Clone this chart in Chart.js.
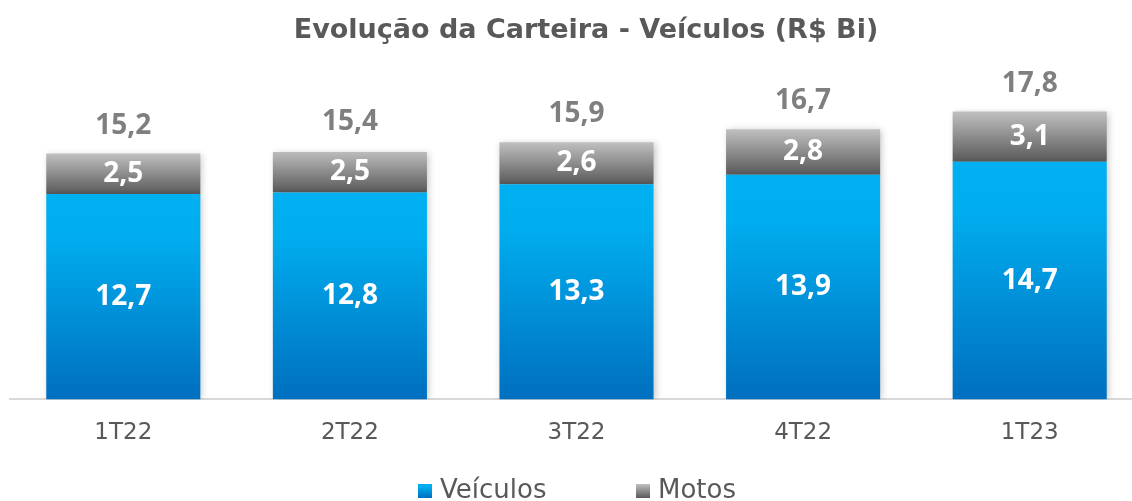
<!DOCTYPE html>
<html>
<head>
<meta charset="utf-8">
<script src="https://cdn.jsdelivr.net/npm/chart.js@4"></script>
<style>
  html, body { margin: 0; padding: 0; background: #fff; overflow: hidden; }
  #wrap { width: 1160px; height: 501px; }
</style>
</head>
<body>
<div id="wrap"><canvas id="carteira"></canvas></div>
<script>
const trimestres = ['1T22', '2T22', '3T22', '4T22', '1T23'];
const veiculos = [12.7, 12.8, 13.3, 13.9, 14.7];
const motos = [2.5, 2.5, 2.6, 2.8, 3.1];
const totais = [15.2, 15.4, 15.9, 16.7, 17.8];

const titulo = 'Evolução da Carteira - Veículos (R$ Bi)';
const fonte = '"DejaVu Sans", sans-serif';
const fonteNum = '"Open Sans", sans-serif';
const fmt = v => v.toFixed(1).replace('.', ',');

const azul = [[0, '#00b0f0'], [0.2, '#00aeef'], [1, '#006fbf']];
const cinza = [[0, '#c0c0c0'], [1, '#595959']];

// degrade por barra (de cima para baixo)
function degrade(ctx, topo, base, cores) {
    const chart = ctx.chart;
    const y = chart.scales.y;
    if (!y || !chart.chartArea) return cores[0][1];
    const i = ctx.dataIndex;
    const y1 = y.getPixelForValue(topo(i));
    const y2 = y.getPixelForValue(base(i));
    if (!isFinite(y1) || !isFinite(y2) || y1 === y2) return cores[0][1];
    const g = chart.ctx.createLinearGradient(0, y1, 0, y2);
    cores.forEach(c => g.addColorStop(c[0], c[1]));
    return g;
}

const rotulos = {
    id: 'rotulos',
    afterDatasetsDraw(chart) {
        const ctx = chart.ctx;
        const y = chart.scales.y;
        ctx.save();
        ctx.textAlign = 'center';
        ctx.textBaseline = 'middle';
        ctx.font = 'bold 28px ' + fonteNum;
        chart.getDatasetMeta(0).data.forEach((bar, i) => {
            ctx.fillStyle = '#ffffff';
            ctx.fillText(fmt(veiculos[i]), bar.x, y.getPixelForValue(veiculos[i] / 2));
            ctx.fillText(fmt(motos[i]), bar.x, y.getPixelForValue(veiculos[i] + motos[i] / 2));
            ctx.fillStyle = '#7f7f7f';
            ctx.fillText(fmt(totais[i]), bar.x, y.getPixelForValue(totais[i]) - 28);
        });

        // titulo
        ctx.fillStyle = '#595959';
        ctx.font = 'bold 27px ' + fonte;
        ctx.fillText(titulo, 586, 31);

        // legenda
        ctx.font = '26px ' + fonte;
        ctx.textAlign = 'left';
        const itens = [
            { txt: chart.data.datasets[0].label, x: 418, cores: azul },
            { txt: chart.data.datasets[1].label, x: 636, cores: cinza }
        ];
        itens.forEach(it => {
            const g = ctx.createLinearGradient(0, 484, 0, 498);
            it.cores.forEach(c => g.addColorStop(c[0], c[1]));
            ctx.fillStyle = g;
            ctx.fillRect(it.x, 484, 14, 14);
            ctx.fillStyle = '#595959';
            ctx.fillText(it.txt, it.x + 22, 491);
        });
        ctx.restore();
    }
};

const sombra = {
    id: 'sombra',
    beforeDatasetsDraw(chart) {
        const ctx = chart.ctx;
        ctx.save();
        ctx.shadowColor = 'rgba(0,0,0,0.22)';
        ctx.shadowBlur = 7;
        ctx.shadowOffsetX = 2;
        ctx.shadowOffsetY = 1;
    },
    afterDatasetsDraw(chart) {
        chart.ctx.restore();
    }
};

new Chart(document.getElementById('carteira'), {
    type: 'bar',
    data: {
        labels: trimestres,
        datasets: [
            {
                label: 'Veículos',
                data: veiculos,
                backgroundColor: c => degrade(c, i => veiculos[i], () => 0, azul),
            },
            {
                label: 'Motos',
                data: motos,
                backgroundColor: c => degrade(c, i => totais[i], i => veiculos[i], cinza),
            }
        ]
    },
    options: {
        responsive: true,
        maintainAspectRatio: false,
        animation: false,
        layout: { padding: { left: 10, right: 17, top: 76, bottom: 42 } },
        datasets: { bar: { barPercentage: 0.68, categoryPercentage: 1 } },
        scales: {
            x: {
                stacked: true,
                grid: { display: false },
                border: { display: true, color: '#d9d9d9', width: 2 },
                ticks: { color: '#595959', font: { family: fonte, size: 23 }, padding: 12 }
            },
            y: {
                stacked: true,
                display: false,
                min: 0,
                max: 20
            }
        },
        plugins: {
            title: { display: false },
            legend: { display: false },
            tooltip: { enabled: false }
        }
    },
    plugins: [sombra, rotulos]
});
</script>
</body>
</html>
